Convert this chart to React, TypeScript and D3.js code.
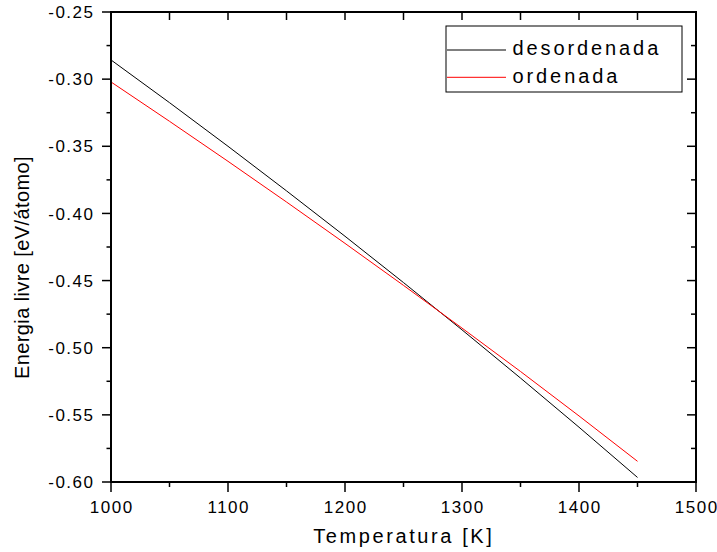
import React from "react";
import * as d3 from "d3";

const temps = [1000, 1050, 1100, 1150, 1200, 1250, 1300, 1350, 1400, 1450];
const desordenada = [-0.2857, -0.3175, -0.35, -0.3832, -0.417, -0.4515, -0.4867, -0.5226, -0.5592, -0.5966];
const ordenada = [-0.3021, -0.3314, -0.3612, -0.3915, -0.4223, -0.4536, -0.4854, -0.5177, -0.5508, -0.5846];
const xMajor = [1000, 1100, 1200, 1300, 1400, 1500];
const xMinor = [1050, 1150, 1250, 1350, 1450];
const yMajor = [-0.6, -0.55, -0.5, -0.45, -0.4, -0.35, -0.3, -0.25];
const yMinor = [-0.575, -0.525, -0.475, -0.425, -0.375, -0.325, -0.275];
const seriesNames = ["desordenada", "ordenada"];
const seriesColors = ["#000000", "#ff0000"];

const W = 717, H = 552;
const L = 111, R = 696, T = 12, B = 482;
const FONT = "'Liberation Sans', Arial, Helvetica, sans-serif";

export default function App() {
  const x = d3.scaleLinear().domain([1000, 1500]).range([L, R]);
  const y = d3.scaleLinear().domain([-0.6, -0.25]).range([B, T]);
  const line = d3
    .line<number>()
    .x((_, i) => x(temps[i]))
    .y((d) => y(d));
  const series = [desordenada, ordenada];
  const tickStroke = 1.5;

  return (
    <svg width={W} height={H} style={{ position: "absolute", left: 0, top: 0, background: "#fff" }}>
      <rect x={0} y={0} width={W} height={H} fill="#fff" />
      {series.map((s, i) => (
        <path key={i} d={line(s) || ""} fill="none" stroke={seriesColors[i]} strokeWidth={1} />
      ))}
      {/* frame */}
      <rect x={L} y={T} width={R - L} height={B - T} fill="none" stroke="#000" strokeWidth={2} />
      {/* bottom ticks outward */}
      {xMajor.map((v) => (
        <line key={"bM" + v} x1={x(v)} x2={x(v)} y1={B} y2={B + 10} stroke="#000" strokeWidth={tickStroke} />
      ))}
      {xMinor.map((v) => (
        <line key={"bm" + v} x1={x(v)} x2={x(v)} y1={B} y2={B + 5} stroke="#000" strokeWidth={tickStroke} />
      ))}
      {/* top ticks inward */}
      {xMajor.map((v) => (
        <line key={"tM" + v} x1={x(v)} x2={x(v)} y1={T} y2={T + 8} stroke="#000" strokeWidth={tickStroke} />
      ))}
      {xMinor.map((v) => (
        <line key={"tm" + v} x1={x(v)} x2={x(v)} y1={T} y2={T + 8} stroke="#000" strokeWidth={tickStroke} />
      ))}
      {/* left ticks outward */}
      {yMajor.map((v) => (
        <line key={"lM" + v} x1={L - 9} x2={L} y1={y(v)} y2={y(v)} stroke="#000" strokeWidth={tickStroke} />
      ))}
      {yMinor.map((v) => (
        <line key={"lm" + v} x1={L - 4.5} x2={L} y1={y(v)} y2={y(v)} stroke="#000" strokeWidth={tickStroke} />
      ))}
      {/* right ticks inward */}
      {yMajor.map((v) => (
        <line key={"rM" + v} x1={R - 9} x2={R} y1={y(v)} y2={y(v)} stroke="#000" strokeWidth={tickStroke} />
      ))}
      {yMinor.map((v) => (
        <line key={"rm" + v} x1={R - 5} x2={R} y1={y(v)} y2={y(v)} stroke="#000" strokeWidth={tickStroke} />
      ))}
      {/* tick labels */}
      {xMajor.map((v) => (
        <text
          key={"xl" + v}
          x={x(v) + 0.75}
          y={513}
          textAnchor="middle"
          fontFamily={FONT}
          fontSize={17}
          letterSpacing={1.5}
          fill="#000"
        >
          {v}
        </text>
      ))}
      {yMajor.map((v) => (
        <text
          key={"yl" + v}
          x={94.5}
          y={y(v)}
          dy="0.36em"
          textAnchor="end"
          fontFamily={FONT}
          fontSize={17}
          letterSpacing={1.5}
          fill="#000"
        >
          {v.toFixed(2)}
        </text>
      ))}
      {/* axis titles */}
      <text
        x={403.8}
        y={543}
        textAnchor="middle"
        fontFamily={FONT}
        fontSize={20}
        letterSpacing={2.6}
        fill="#000"
      >
        Temperatura [K]
      </text>
      <text
        transform={`translate(29, 267.5) rotate(-90)`}
        textAnchor="middle"
        fontFamily={FONT}
        fontSize={20}
        letterSpacing={0.4}
        fill="#000"
      >
        Energia livre [eV/átomo]
      </text>
      {/* legend */}
      <rect x={446} y={26} width={236} height={66} fill="#fff" stroke="#000" strokeWidth={1} />
      {seriesNames.map((n, i) => (
        <g key={n}>
          <line
            x1={447}
            x2={506}
            y1={50 + i * 27.3}
            y2={50 + i * 27.3}
            stroke={seriesColors[i]}
            strokeWidth={1}
          />
          <text
            x={512.5}
            y={55 + i * 27.7}
            fontFamily={FONT}
            fontSize={20}
            letterSpacing={2.9}
            fill="#000"
          >
            {n}
          </text>
        </g>
      ))}
    </svg>
  );
}
